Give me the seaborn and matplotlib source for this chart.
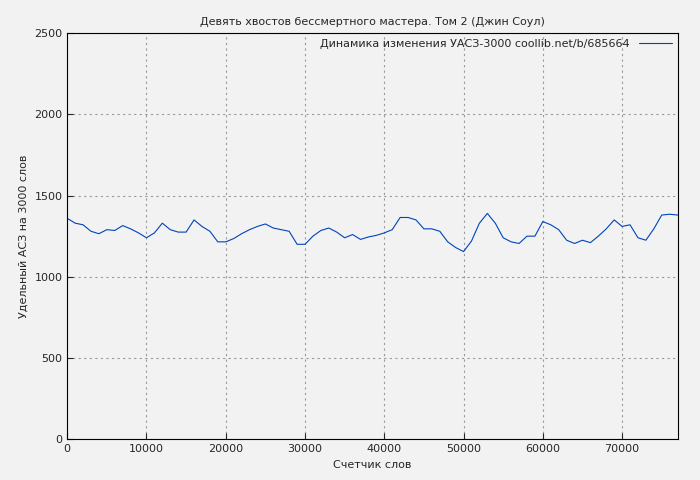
import matplotlib
matplotlib.use("Agg")
import matplotlib.pyplot as plt
import seaborn as sns
import pandas as pd

words = list(range(0, 78000, 1000))
values = [1360,1330,1320,1280,1265,1290,1285,1315,1295,1270,1240,1270,1330,1290,1275,1275,1350,1310,1280,1215,
          1215,1235,1265,1290,1310,1325,1300,1290,1280,1200,1200,1250,1285,1300,1275,1240,1260,1230,1245,1255,
          1270,1290,1365,1365,1350,1295,1295,1280,1215,1180,1155,1220,1330,1390,1330,1240,1215,1205,1250,1250,
          1340,1320,1290,1225,1205,1225,1210,1250,1295,1350,1310,1320,1240,1225,1295,1380,1385,1380]
df = pd.DataFrame({"x": words, "y": values})

sns.set_style("white")
fig, ax = plt.subplots(figsize=(7, 4.8), dpi=100)
fig.patch.set_facecolor("#f2f2f2")
ax.set_facecolor("#f2f2f2")
sns.lineplot(data=df, x="x", y="y", ax=ax, color="#0044bb", linewidth=0.8,
             label="Динамика изменения УАСЗ-3000 coollib.net/b/685664")
ax.set_xlim(0, 77000)
ax.set_ylim(0, 2500)
ax.set_xticks(range(0, 80000, 10000))
ax.set_yticks(range(0, 2501, 500))
ax.grid(True, color="#999999", linestyle=(0, (2, 3)), linewidth=0.8)
for s in ax.spines.values():
    s.set_color("black")
ax.tick_params(labelsize=8, direction="in", length=4, left=True, bottom=True)
ax.set_xlabel("Счетчик слов", fontsize=8)
ax.set_ylabel("Удельный АСЗ на 3000 слов", fontsize=8)
ax.set_title("Девять хвостов бессмертного мастера. Том 2 (Джин Соул)", fontsize=8)
leg = ax.legend(loc="upper right", fontsize=8, frameon=False, markerfirst=False,
                handlelength=3, borderaxespad=0.1)
plt.subplots_adjust(left=0.096, right=0.968, top=0.931, bottom=0.085)
fig.savefig("out.png")
